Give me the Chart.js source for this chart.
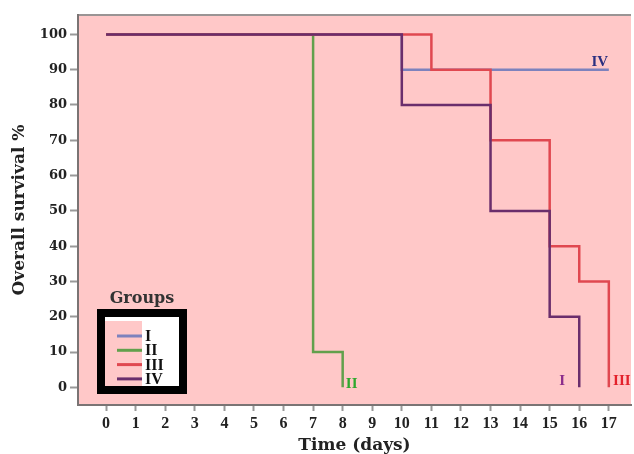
<!DOCTYPE html>
<html>
<head>
<meta charset="utf-8">
<script src="https://cdn.jsdelivr.net/npm/chart.js@4.4.1/dist/chart.umd.min.js"></script>
<style>
  body { margin: 0; background: #fff; }
  canvas { display: block; }
</style>
</head>
<body>
<canvas id="chart" width="634" height="454"></canvas>
<script>
// tick labels
const xTicks = [0, 1, 2, 3, 4, 5, 6, 7, 8, 9, 10, 11, 12, 13, 14, 15, 16, 17];
const yTicks = [0, 10, 20, 30, 40, 50, 60, 70, 80, 90, 100];

// legend groups
const groups = ['I', 'II', 'III', 'IV'];

// survival steps per group (days, % surviving)
const daysI = [0, 10, 17];
const survI = [100, 90, 90];
const daysII = [0, 7, 8];
const survII = [100, 10, 0];
const daysIII = [0, 11, 13, 15, 16, 17];
const survIII = [100, 90, 70, 40, 30, 0];
const daysIV = [0, 10, 13, 15, 16];
const survIV = [100, 80, 50, 20, 0];

// labels written at the end of each curve in the picture
const endLabels = ['IV', 'II', 'III', 'I'];

const lineColors = ['#7d82bd', '#62a04c', '#e04850', '#6a2e6c'];
const endColors = ['#2b2f80', '#2ea82e', '#e3222c', '#8b2c8b'];
const endOffsets = [[-9, -8], [9, -3], [13, -6], [-17, -6]];

const toPts = (d, s) => d.map((x, i) => ({ x: x, y: s[i] }));
const series = [toPts(daysI, survI), toPts(daysII, survII), toPts(daysIII, survIII), toPts(daysIV, survIV)];

const bgPlugin = {
  id: 'bg',
  beforeDraw(chart) {
    const { ctx, chartArea: a } = chart;
    ctx.save();
    ctx.fillStyle = '#ffc8c8';
    ctx.fillRect(a.left, a.top, a.right - a.left, a.bottom - a.top);
    ctx.strokeStyle = '#9a9494';
    ctx.lineWidth = 2;
    ctx.beginPath();
    ctx.moveTo(a.left, a.top);
    ctx.lineTo(a.right, a.top);
    ctx.stroke();
    ctx.restore();
  }
};

const labelPlugin = {
  id: 'endLabels',
  afterDatasetsDraw(chart) {
    const ctx = chart.ctx;
    ctx.save();
    ctx.font = 'bold 15px "Liberation Serif"';
    ctx.textAlign = 'center';
    ctx.textBaseline = 'middle';
    chart.data.datasets.forEach((ds, i) => {
      const pts = chart.getDatasetMeta(i).data;
      const last = pts[pts.length - 1];
      ctx.fillStyle = endColors[i];
      ctx.fillText(endLabels[i], last.x + endOffsets[i][0], last.y + endOffsets[i][1]);
    });
    ctx.restore();
  }
};

// boxed "Groups" key, drawn by hand to look like the original
const keyPlugin = {
  id: 'key',
  afterDraw(chart) {
    const ctx = chart.ctx;
    ctx.save();
    ctx.fillStyle = '#333';
    ctx.font = 'bold 16px "DejaVu Serif"';
    ctx.textAlign = 'center';
    ctx.textBaseline = 'middle';
    ctx.fillText('Groups', 142, 299);

    ctx.fillStyle = '#fff';
    ctx.fillRect(105, 317, 74, 70);
    ctx.fillStyle = '#ffc8c8';
    ctx.fillRect(105, 321, 37, 66);
    ctx.strokeStyle = '#000';
    ctx.lineWidth = 8;
    ctx.strokeRect(101, 313, 82, 77);

    ctx.font = 'bold 16px "Liberation Serif"';
    ctx.textAlign = 'left';
    groups.forEach((g, i) => {
      const y = 336 + i * 14.3;
      ctx.strokeStyle = lineColors[i];
      ctx.lineWidth = 3;
      ctx.beginPath();
      ctx.moveTo(117, y);
      ctx.lineTo(142, y);
      ctx.stroke();
      ctx.fillStyle = '#111';
      ctx.fillText(g, 145, y + 1);
    });
    ctx.restore();
  }
};

new Chart(document.getElementById('chart'), {
  type: 'line',
  data: {
    datasets: series.map((pts, i) => ({
      label: groups[i],
      data: pts,
      order: series.length - 1 - i,
      borderColor: lineColors[i],
      borderWidth: 2.5,
      stepped: 'before',
      pointRadius: 0,
      fill: false
    }))
  },
  options: {
    responsive: false,
    animation: false,
    devicePixelRatio: 1,
    layout: { padding: { top: 15, right: 3, left: 0, bottom: 0 } },
    plugins: { legend: { display: false }, tooltip: { enabled: false } },
    scales: {
      x: {
        type: 'linear',
        min: -0.95,
        max: 17.75,
        afterBuildTicks: s => { s.ticks = xTicks.map(v => ({ value: v })); },
        afterFit: s => { s.height = 49; },
        ticks: {
          autoSkip: false, maxRotation: 0, padding: 3, color: '#222',
          font: { family: 'Liberation Serif', weight: 'bold', size: 16 }
        },
        grid: { drawOnChartArea: false, tickLength: 6, tickColor: '#999', tickWidth: 2 },
        border: { display: true, color: '#7a7474', width: 2 },
        title: {
          display: true, text: 'Time (days)', color: '#222', padding: 0,
          font: { family: 'DejaVu Serif', weight: 'bold', size: 17, lineHeight: 1 }
        }
      },
      y: {
        min: -5,
        max: 105.5,
        afterBuildTicks: s => { s.ticks = yTicks.map(v => ({ value: v })); },
        afterFit: s => { s.width = 78; },
        ticks: {
          padding: 3, color: '#222',
          font: { family: 'DejaVu Serif', weight: 'bold', size: 13 }
        },
        grid: { drawOnChartArea: false, tickLength: 8, tickColor: '#999', tickWidth: 2 },
        border: { display: true, color: '#7a7474', width: 2 },
        title: {
          display: true, text: 'Overall survival %', color: '#222', padding: { top: 11, bottom: 0 },
          font: { family: 'DejaVu Serif', weight: 'bold', size: 17, lineHeight: 1 }
        }
      }
    }
  },
  plugins: [bgPlugin, labelPlugin, keyPlugin]
});
</script>
</body>
</html>
